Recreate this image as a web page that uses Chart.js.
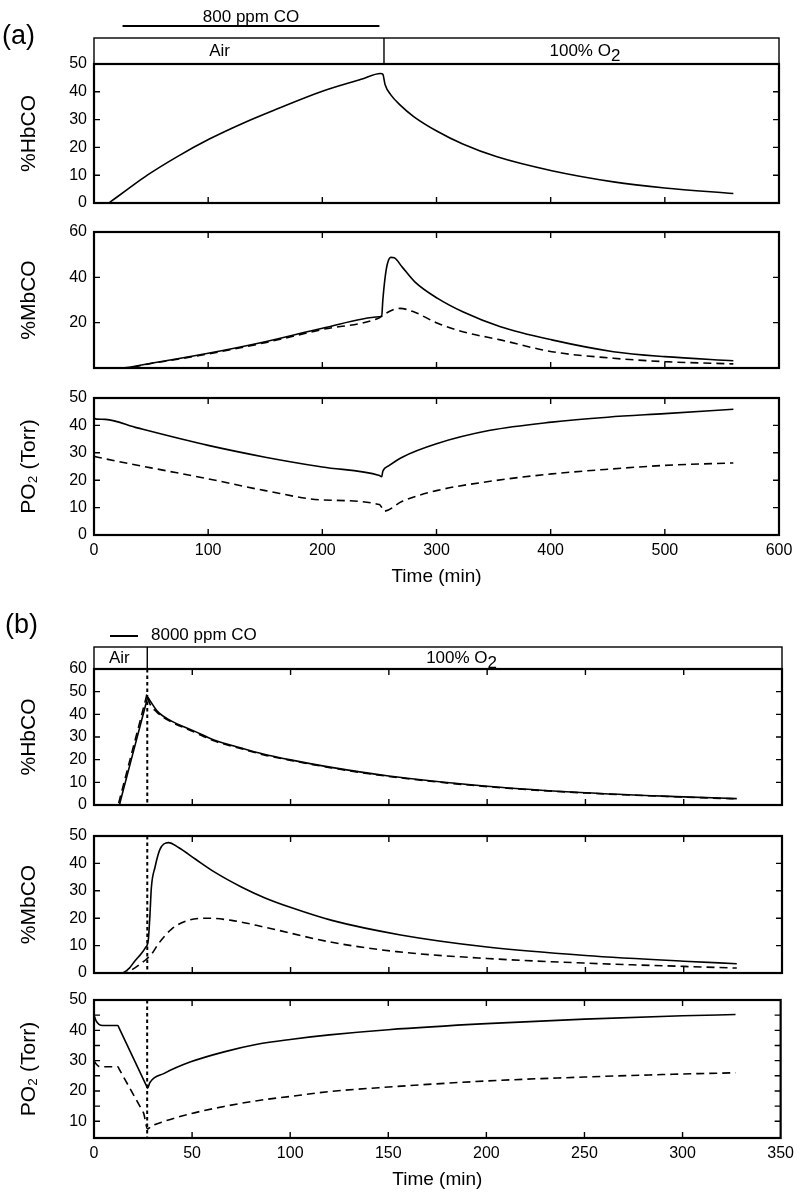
<!DOCTYPE html>
<html>
<head>
<meta charset="utf-8">
<title>HbCO / MbCO / PO2 during CO exposure</title>
<script src="https://cdn.jsdelivr.net/npm/chart.js@4.4.1/dist/chart.umd.min.js"></script>
<style>
  body { margin: 0; background: #fff; }
  #page { position: relative; width: 800px; height: 1193px; }
  #page canvas { position: absolute; left: 0; top: 0; }
</style>
</head>
<body>
<div id="page"></div>
<script>
// ---- (a) 800 ppm CO in air, then 100% O2 ----
const aSwitch = 254;
const aCoBar = [25, 250];
const aXTicks = [0, 100, 200, 300, 400, 500, 600];

const aHbcoTime  = [0, 13, 14, 29, 47, 73, 101, 131, 159, 200, 234, 251, 253, 255, 260, 268, 280, 301, 323, 353, 401, 455, 500, 560];
const aHbcoSolid = [0, 0, 0.3, 4.8, 10.1, 16.7, 23.0, 28.8, 33.6, 40.2, 44.5, 46.6, 46.3, 42.5, 38.9, 35.3, 31.1, 25.7, 21.2, 16.6, 11.6, 7.6, 5.4, 3.4];

const aMbcoTime  = [0, 23, 50, 100, 150, 200, 250, 252, 253, 255, 257, 260, 263, 270, 281, 301, 323, 356, 401, 455, 500, 560];
const aMbcoSolid = [0, 0, 2.1, 6.5, 11.6, 17.5, 22.6, 23, 30, 40, 46, 48.8, 48.6, 44.5, 38, 30.7, 24.8, 18.2, 12.4, 7.2, 5.0, 3.2];
const aMbcoDashTime = [0, 25, 50, 100, 150, 200, 250, 256, 262, 268, 280, 301, 323, 356, 401, 455, 500, 560];
const aMbcoDashed   = [0, 0, 2.0, 6.2, 11.2, 17.0, 22.2, 24.2, 25.7, 26.3, 24.8, 19.7, 16.0, 12.4, 7.2, 4.3, 2.8, 1.8];

const aPo2Time  = [0, 2, 10, 38, 100, 150, 200, 250, 252, 253, 258, 270, 300, 347, 401, 450, 500, 560];
const aPo2Solid = [42.6, 42.3, 42.2, 39.1, 32.7, 28.4, 24.8, 21.7, 21.3, 23.3, 25.2, 28.4, 33.3, 38.2, 41.2, 43.0, 44.3, 45.9];
const aPo2DashTime = [0, 10, 50, 100, 150, 200, 250, 252, 254, 270, 300, 347, 401, 450, 500, 560];
const aPo2Dashed   = [28.7, 27.8, 24.5, 20.5, 16.2, 12.8, 11.1, 10.1, 8.7, 12.3, 16.2, 19.6, 22.3, 24.0, 25.4, 26.3];

// ---- (b) 8000 ppm CO in air, then 100% O2 ----
const bSwitch = 27.1;
const bXTicks = [0, 50, 100, 150, 200, 250, 300, 350];

const bHbcoTime  = [0, 12.9, 13.4, 26.8, 27.3, 28.5, 32.3, 39, 51, 61, 75, 86, 100, 120, 150, 200, 250, 300, 327];
const bHbcoSolid = [0, 0, 1.65, 45.85, 47.5, 46, 41.3, 37.2, 32.6, 28.7, 25.1, 22.5, 19.9, 16.7, 12.8, 8.3, 5.4, 3.6, 2.8];
const bHbcoDashTime = [0, 12.3, 12.8, 26.5, 27, 28, 32, 39, 51, 61, 75, 86, 100, 120, 150, 200, 250, 300, 327];
const bHbcoDashed   = [0, 0, 1.67, 47.3, 49, 45.5, 41, 36.8, 32.2, 28.3, 24.8, 22.2, 19.7, 16.5, 12.6, 8.1, 5.3, 3.5, 2.7];

const bMbcoTime  = [0, 14.3, 18, 21, 24, 26.1, 27.6, 28.4, 29.2, 31, 33.6, 37.9, 43, 51.5, 61.6, 75.2, 87, 100.6, 121, 156, 200, 250, 300, 327];
const bMbcoSolid = [0, 0, 1.8, 4.6, 7, 9.2, 11.9, 20.4, 31.3, 38.5, 45.2, 47.6, 45.8, 41.6, 36.7, 31.3, 27.4, 23.8, 19.2, 13.9, 9.5, 6.4, 4.3, 3.4];
const bMbcoDashTime = [0, 15.9, 20, 22.6, 26.9, 29.4, 32.8, 39.6, 48, 58, 70, 87, 121, 154, 200, 250, 300, 327];
const bMbcoDashed   = [0, 0, 1.5, 2.8, 5.2, 7, 10.7, 16.1, 19.2, 20, 19.2, 16.7, 11.2, 7.8, 5.3, 3.6, 2.4, 1.8];

const bPo2Time  = [0, 1, 2.5, 4.5, 12.2, 12.7, 26.8, 27.3, 28.5, 35.8, 49.3, 66.3, 83.2, 100, 120, 150, 200, 250, 300, 327];
const bPo2Solid = [45, 43.2, 42, 41.6, 41.6, 40.9, 21.6, 20.9, 22.8, 25.8, 29.6, 32.9, 35.4, 37.0, 38.5, 40.2, 42.2, 43.7, 44.8, 45.2];
const bPo2DashTime = [0, 1, 3, 12.2, 12.7, 24.8, 25.3, 27.3, 29, 35.8, 49.3, 66.3, 83.2, 100, 120, 150, 200, 250, 300, 327];
const bPo2Dashed   = [30, 29, 28, 28, 27.4, 13.3, 12.7, 7.5, 8.3, 10, 12.5, 14.9, 16.8, 18.2, 19.8, 21.3, 23.3, 24.6, 25.6, 26];
const bPo2Minor = [10, 15, 20, 25, 30, 35, 40, 45];

const FONT = "'Liberation Sans', Arial, sans-serif";
Chart.defaults.font.family = FONT;
Chart.defaults.color = '#000';

const YW = 81;   // y axis box width
const XH = 57;   // x axis box height (labels + title)

function pts(t, v) { return t.map((x, i) => ({ x: x, y: v[i] })); }

function curve(t, v, dashed) {
  return {
    data: pts(t, v),
    borderColor: '#000',
    borderWidth: 1.6,
    borderDash: dashed ? [8, 5] : [],
    pointRadius: 0,
    fill: false,
    cubicInterpolationMode: 'monotone'
  };
}

function tickList(vals) { return vals.map(v => ({ value: v })); }

// text with a lowered "2"
function subText(ctx, x, y, main, sub, size) {
  ctx.font = size + 'px ' + FONT;
  const w1 = ctx.measureText(main).width;
  const w2 = ctx.measureText(sub).width;
  const x0 = x - (w1 + w2) / 2;
  ctx.textAlign = 'left';
  ctx.textBaseline = 'middle';
  ctx.fillText(main, x0, y);
  ctx.fillText(sub, x0 + w1, y + size * 0.3);
}

function seg(ctx, x1, y1, x2, y2) { ctx.moveTo(x1, y1); ctx.lineTo(x2, y2); }

// box, inner ticks and the dotted switch line
const framePlugin = {
  id: 'frame',
  afterDraw(chart, args, o) {
    const ctx = chart.ctx, a = chart.chartArea;
    const xs = chart.scales.x, ys = chart.scales.y;
    ctx.save();
    ctx.strokeStyle = '#000';
    if (o.marker != null) {
      const px = xs.getPixelForValue(o.marker);
      ctx.lineWidth = 2;
      ctx.setLineDash([3.5, 3]);
      ctx.beginPath(); seg(ctx, px, a.top, px, a.bottom); ctx.stroke();
      ctx.setLineDash([]);
    }
    ctx.lineWidth = 1.4;
    ctx.beginPath();
    xs.ticks.forEach(tk => {
      const p = xs.getPixelForValue(tk.value);
      if (p < a.left + 2 || p > a.right - 2) return;
      seg(ctx, p, a.bottom, p, a.bottom - 6);
      if (o.topTicks) seg(ctx, p, a.top, p, a.top + 6);
    });
    (o.minor || ys.ticks.map(t => t.value)).forEach(v => {
      const p = ys.getPixelForValue(v);
      if (p < a.top + 2 || p > a.bottom - 2) return;
      seg(ctx, a.left, p, a.left + 6, p);
      seg(ctx, a.right, p, a.right - 6, p);
    });
    ctx.stroke();
    ctx.lineWidth = 2.2;
    ctx.strokeRect(a.left, a.top, a.right - a.left, a.bottom - a.top);
    ctx.restore();
  }
};

// panel letter, gas header box, CO bar / legend
const panelPlugin = {
  id: 'panel',
  afterDraw(chart, args, o) {
    const ctx = chart.ctx, a = chart.chartArea, xs = chart.scales.x;
    const top = a.top - o.headerHeight;
    ctx.save();
    ctx.fillStyle = '#000';
    ctx.strokeStyle = '#000';

    ctx.font = '27px ' + FONT;
    ctx.textAlign = 'left';
    ctx.textBaseline = 'middle';
    ctx.fillText(o.letter, o.letterX, o.letterY);

    ctx.lineWidth = 1.4;
    ctx.strokeRect(a.left, top, a.right - a.left, o.headerHeight);
    const dx = xs.getPixelForValue(o.switchAt);
    ctx.beginPath(); seg(ctx, dx, top, dx, a.top); ctx.stroke();

    const my = top + o.headerHeight / 2;
    o.labels.forEach(l => {
      const lx = xs.getPixelForValue(l.t);
      if (l.sub) {
        subText(ctx, lx, my, l.text, l.sub, 17);
      } else {
        ctx.font = '17px ' + FONT;
        ctx.textAlign = 'center';
        ctx.textBaseline = 'middle';
        ctx.fillText(l.text, lx, my);
      }
    });

    ctx.lineWidth = 2;
    if (o.bar) {
      const x1 = xs.getPixelForValue(o.bar[0]), x2 = xs.getPixelForValue(o.bar[1]);
      ctx.beginPath(); seg(ctx, x1, top - 12, x2, top - 12); ctx.stroke();
      ctx.font = '17px ' + FONT;
      ctx.textAlign = 'center';
      ctx.fillText(o.barText, (x1 + x2) / 2, top - 21);
    }
    if (o.legendText) {
      ctx.beginPath(); seg(ctx, 110, top - 11, 138, top - 11); ctx.stroke();
      ctx.font = '17px ' + FONT;
      ctx.textAlign = 'left';
      ctx.fillText(o.legendText, 151, top - 12);
    }
    ctx.restore();
  }
};

function plot(cfg) {
  const canvas = document.createElement('canvas');
  canvas.width = 800;
  canvas.height = 1193;
  document.getElementById('page').appendChild(canvas);
  const b = cfg.box;
  const xh = cfg.xTitle ? XH : 0;
  return new Chart(canvas, {
    type: 'line',
    data: { datasets: cfg.series },
    options: {
      responsive: false,
      animation: false,
      devicePixelRatio: 1,
      events: [],
      layout: {
        autoPadding: false,
        padding: { left: b.left - YW, right: 800 - b.right, top: b.top, bottom: 1193 - b.bottom - xh }
      },
      plugins: {
        legend: { display: false },
        tooltip: { enabled: false },
        frame: cfg.frame || {},
        panel: cfg.panel || false
      },
      scales: {
        x: {
          type: 'linear',
          min: 0,
          max: cfg.xTicks[cfg.xTicks.length - 1],
          display: !!cfg.xTitle,
          afterBuildTicks: s => { s.ticks = tickList(cfg.xTicks); },
          afterFit: s => { if (cfg.xTitle) s.height = XH; },
          grid: { display: false, drawTicks: false },
          border: { display: false },
          ticks: { font: { size: 16 }, padding: 6, maxRotation: 0, autoSkip: false },
          title: { display: !!cfg.xTitle, text: cfg.xTitle || '', font: { size: 19 } }
        },
        y: {
          type: 'linear',
          min: cfg.yMin,
          max: cfg.yMax,
          afterBuildTicks: s => { s.ticks = tickList(cfg.yTicks); },
          afterFit: s => { s.width = YW; },
          grid: { display: false, drawTicks: false },
          border: { display: false },
          ticks: { font: { size: 16 }, padding: 7 },
          title: { display: true, text: cfg.yTitle, font: { size: 21 } }
        }
      }
    },
    plugins: [framePlugin, panelPlugin]
  });
}

// panel (a)
plot({
  box: { left: 94, right: 779, top: 64, bottom: 203 },
  xTicks: aXTicks, yMin: 0, yMax: 50, yTicks: [0, 10, 20, 30, 40, 50],
  yTitle: '%HbCO',
  series: [curve(aHbcoTime, aHbcoSolid, false)],
  frame: { topTicks: false },
  panel: {
    letter: '(a)', letterX: 2, letterY: 37, headerHeight: 26, switchAt: aSwitch,
    labels: [{ t: 110, text: 'Air' }, { t: 430, text: '100% O', sub: '2' }],
    bar: aCoBar, barText: '800 ppm CO'
  }
});
plot({
  box: { left: 94, right: 779, top: 232, bottom: 368 },
  xTicks: aXTicks, yMin: 0, yMax: 60, yTicks: [20, 40, 60],
  yTitle: '%MbCO',
  series: [curve(aMbcoTime, aMbcoSolid, false), curve(aMbcoDashTime, aMbcoDashed, true)],
  frame: { topTicks: true }
});
plot({
  box: { left: 94, right: 779, top: 398, bottom: 535 },
  xTicks: aXTicks, yMin: 0, yMax: 50, yTicks: [0, 10, 20, 30, 40, 50],
  yTitle: 'PO\u2082 (Torr)', xTitle: 'Time (min)',
  series: [curve(aPo2Time, aPo2Solid, false), curve(aPo2DashTime, aPo2Dashed, true)],
  frame: { topTicks: true }
});

// panel (b)
plot({
  box: { left: 94, right: 782, top: 669, bottom: 805 },
  xTicks: bXTicks, yMin: 0, yMax: 60, yTicks: [0, 10, 20, 30, 40, 50, 60],
  yTitle: '%HbCO',
  series: [curve(bHbcoTime, bHbcoSolid, false), curve(bHbcoDashTime, bHbcoDashed, true)],
  frame: { topTicks: true, marker: bSwitch },
  panel: {
    letter: '(b)', letterX: 5, letterY: 626, headerHeight: 22, switchAt: bSwitch,
    labels: [{ t: 12.9, text: 'Air' }, { t: 187, text: '100% O', sub: '2' }],
    legendText: '8000 ppm CO'
  }
});
plot({
  box: { left: 94, right: 782, top: 836, bottom: 973 },
  xTicks: bXTicks, yMin: 0, yMax: 50, yTicks: [0, 10, 20, 30, 40, 50],
  yTitle: '%MbCO',
  series: [curve(bMbcoTime, bMbcoSolid, false), curve(bMbcoDashTime, bMbcoDashed, true)],
  frame: { topTicks: true, marker: bSwitch }
});
plot({
  box: { left: 94, right: 782, top: 1000, bottom: 1138 },
  xTicks: bXTicks, yMin: 4.5, yMax: 50, yTicks: [10, 20, 30, 40, 50],
  yTitle: 'PO\u2082 (Torr)', xTitle: 'Time (min)',
  series: [curve(bPo2Time, bPo2Solid, false), curve(bPo2DashTime, bPo2Dashed, true)],
  frame: { topTicks: true, marker: bSwitch, minor: bPo2Minor }
});
</script>
</body>
</html>
